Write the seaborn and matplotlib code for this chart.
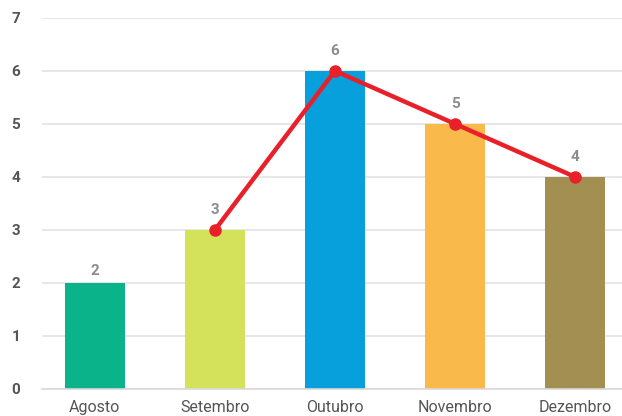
import matplotlib
matplotlib.use("Agg")
import matplotlib.pyplot as plt
import seaborn as sns
import pandas as pd

meses = ["Agosto", "Setembro", "Outubro", "Novembro", "Dezembro"]
valores = [2, 3, 6, 5, 4]
cores = ["#0BB38B", "#D4E15A", "#08A0DC", "#F9B94B", "#A48F52"]
linha_meses = ["Setembro", "Outubro", "Novembro", "Dezembro"]
linha_valores = [3, 6, 5, 4]

sns.set_style("white")
plt.rcParams["font.family"] = ["Roboto", "DejaVu Sans"]

df = pd.DataFrame({"mes": meses, "valor": valores})

fig = plt.figure(figsize=(6.22, 4.16), dpi=100)
ax = fig.add_axes([0.0675, 0.065, 0.9325, 0.892])

sns.barplot(data=df, x="mes", y="valor", hue="mes", palette=cores,
            width=0.5, saturation=1, linewidth=0, legend=False, ax=ax, zorder=2)

# rótulos acima das barras (mais altos onde passa a linha)
for i, v in enumerate(valores):
    dy = 0.25 if meses[i] in linha_meses else 0.1
    ax.text(i, v + dy, str(v), ha="center", va="bottom",
            fontsize=11, fontweight="bold", color="#8C8C8C", zorder=4)

pos = [meses.index(m) for m in linha_meses]
ax.plot(pos, linha_valores, color="#E8202A", linewidth=3.2,
        marker="o", markersize=8, zorder=3)

ax.set_ylim(0, 7)
ax.set_xlim(-0.44, 4.39)
ax.set_yticks(range(0, 8))
ax.yaxis.grid(True, color="#E3E3E3", linewidth=1.2, zorder=0)
ax.set_axisbelow(True)
ax.set_xlabel("")
ax.set_ylabel("")
for s in ["top", "right", "left"]:
    ax.spines[s].set_visible(False)
ax.spines["bottom"].set_color("#D9D9D9")
ax.spines["bottom"].set_linewidth(1.2)
ax.tick_params(axis="both", length=0)
ax.tick_params(axis="y", pad=22)
ax.tick_params(axis="x", pad=8)
for t in ax.get_yticklabels():
    t.set_fontweight("bold")
    t.set_color("#555555")
    t.set_fontsize(11)
    t.set_horizontalalignment("left")
for t in ax.get_xticklabels():
    t.set_color("#555555")
    t.set_fontsize(11.5)

fig.savefig("out.png", dpi=100)
